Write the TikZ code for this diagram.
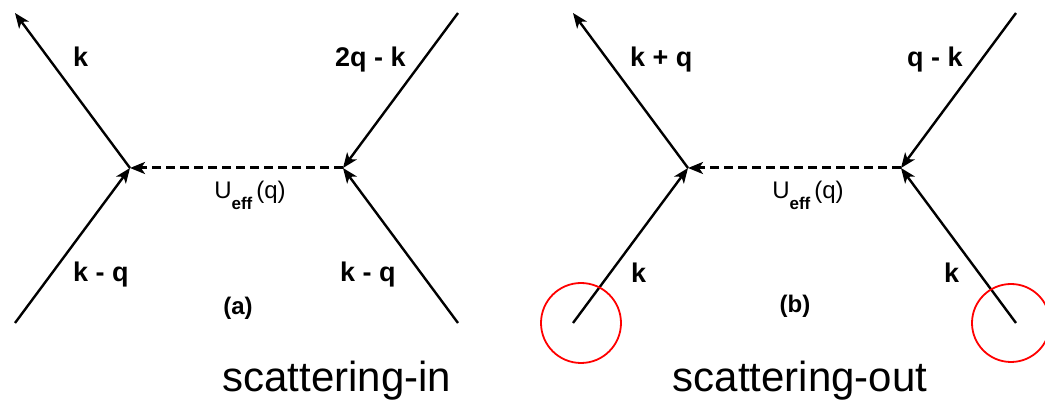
\documentclass[tikz,border=0pt]{standalone}
\usepackage{fontspec}
\setmainfont{Liberation Sans}
\usetikzlibrary{arrows.meta}
\tikzset{
    leg/.style={line width=2.4pt},
    tipend/.style={-{Stealth[length=15pt,width=12pt,inset=4pt]}},
    ueff/.style={line width=3pt, dash pattern=on 9pt off 5pt},
    lbl/.style={font=\fontsize{27}{29}\selectfont\bfseries, inner sep=0pt, anchor=base west},
    tag/.style={font=\fontsize{24}{26}\selectfont\bfseries, inner sep=0pt, anchor=base},
    title/.style={font=\fontsize{42}{46}\selectfont, inner sep=0pt, anchor=base},
    redring/.style={red, line width=1.8pt}
}
\newcommand{\Ueff}{{\fontsize{24}{26}\selectfont U\raisebox{-11pt}{\fontsize{17}{19}\selectfont\bfseries eff}\,(q)}}
\begin{document}
\begin{tikzpicture}[x=1pt,y=-1pt]
    \useasboundingbox (0,0) rectangle (1045,403);
    % vertices (a)
    \coordinate (aL) at (130,168);\coordinate (aR) at (343,168);
    \coordinate (aUL) at (15,13);\coordinate (aLL) at (15,323);
    \coordinate (aUR) at (458,13);\coordinate (aLR) at (458,323);
    % vertices (b)
    \coordinate (bL) at (688,168);\coordinate (bR) at (901,168);
    \coordinate (bUL) at (573,13);\coordinate (bLL) at (573,323);
    \coordinate (bUR) at (1016,13);\coordinate (bLR) at (1016,323);

    % line (a)
    \draw [leg, tipend] (aL) -- (aUL);\draw [leg, tipend] (aLL) -- (aL);
    \draw [leg, tipend] (aUR) -- (aR);\draw [leg, tipend] (aLR) -- (aR);
    \draw [ueff, tipend] (aR) -- (aL);
    % line (b)
    \draw [leg, tipend] (bL) -- (bUL);\draw [leg, tipend] (bLL) -- (bL);
    \draw [leg, tipend] (bUR) -- (bR);\draw [leg, tipend] (bLR) -- (bR);
    \draw [ueff, tipend] (bR) -- (bL);

    % circle
    \draw [redring] (581,323) circle (40);
    \draw [redring] (1011,323) circle (39);

    % lecter (a)
    \node [lbl] (ka) at (73,67) {k};
    \node [lbl] (qka) at (335,67) {2q - k};
    \node [lbl] (kqa) at (73,282) {k - q};
    \node [lbl] (kqa2) at (340,282) {k - q};
    \node [inner sep=0pt, anchor=base] (ua) at (250,199) {\Ueff};
    \node [tag] (taga) at (238,315) {(a)};
    \node [title] (ina) at (337,392) {scattering-in};
    % lecter (b)
    \node [lbl] (kqb) at (630,67) {k + q};
    \node [lbl] (qkb) at (907,67) {q - k};
    \node [lbl] (kb) at (631,283) {k};
    \node [lbl] (kb2) at (944,283) {k};
    \node [inner sep=0pt, anchor=base] (ub) at (808,199) {\Ueff};
    \node [tag] (tagb) at (795,313) {(b)};
    \node [title] (outb) at (800,392) {scattering-out};
\end{tikzpicture}
\end{document}
